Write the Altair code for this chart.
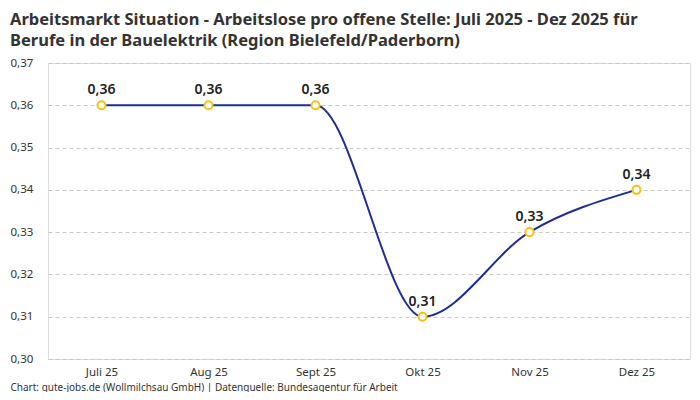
import altair as alt
import pandas as pd

months = ["Juli 25", "Aug 25", "Sept 25", "Okt 25", "Nov 25", "Dez 25"]
values = [0.36, 0.36, 0.36, 0.31, 0.33, 0.34]
y_ticks = [0.30, 0.31, 0.32, 0.33, 0.34, 0.35, 0.36, 0.37]

df = pd.DataFrame({"Monat": months, "Wert": values})
df["Label"] = [f"{v:.2f}".replace(".", ",") for v in values]

FONT = "Noto Sans"
footer = "Chart: gute-jobs.de (Wollmilchsau GmbH) | Datenquelle: Bundesagentur für Arbeit"

x = alt.X(
    "Monat:N",
    sort=months,
    scale=alt.Scale(type="point", padding=0.5),
    axis=alt.Axis(
        title=footer,
        titleFont=FONT,
        titleFontSize=10,
        titleFontWeight="normal",
        titleColor="#333333",
        titleAnchor="start",
        titleAlign="left",
        titleX=-38,
        titleY=31,
        titleBaseline="alphabetic",
        labelFont=FONT,
        labelFontSize=11.5,
        labelColor="#333333",
        labelPadding=7,
        domain=False,
        ticks=False,
        grid=False,
        labelAngle=0,
    ),
)
y = alt.Y(
    "Wert:Q",
    scale=alt.Scale(domain=[0.30, 0.37], nice=False, zero=False),
    axis=alt.Axis(
        title=None,
        values=y_ticks,
        labelExpr="replace(format(datum.value, '.2f'), '.', ',')",
        labelFont=FONT,
        labelFontSize=11.5,
        labelColor="#333333",
        labelAlign="left",
        labelPadding=38,
        domain=False,
        ticks=False,
        grid=True,
        gridDash=[4, 3],
        gridColor="#c8c8c8",
        gridWidth=1,
    ),
)

base = alt.Chart(df).encode(x=x, y=y)

line = base.mark_line(interpolate="monotone", color="#1e2d96", strokeWidth=2)
points = base.mark_point(
    filled=True, fill="white", stroke="#f5c211", strokeWidth=2, size=65, opacity=1
)
labels = base.mark_text(
    dy=-15, font=FONT, fontSize=14, fontWeight=600, color="#222222"
).encode(text="Label:N")

chart = (
    alt.layer(line, points, labels)
    .properties(
        width=642,
        height=296,
        autosize=alt.AutoSizeParams(type="none"),
        padding={"left": 40, "top": 55, "right": 2, "bottom": 33},
        title=alt.Title(
            text=[
                "Arbeitsmarkt Situation - Arbeitslose pro offene Stelle: Juli 2025 - Dez 2025 für",
                "Berufe in der Bauelektrik (Region Bielefeld/Paderborn)",
            ],
            anchor="start",
            frame="group",
            font=FONT,
            fontSize=16.5,
            fontWeight="bold",
            color="#333333",
            dx=-38,
            offset=8,
            lineHeight=21,
        ),
    )
    .configure_view(stroke=None)
    .configure(background="white")
)

chart.save("out.html", embed_options={"renderer": "svg", "actions": False})
